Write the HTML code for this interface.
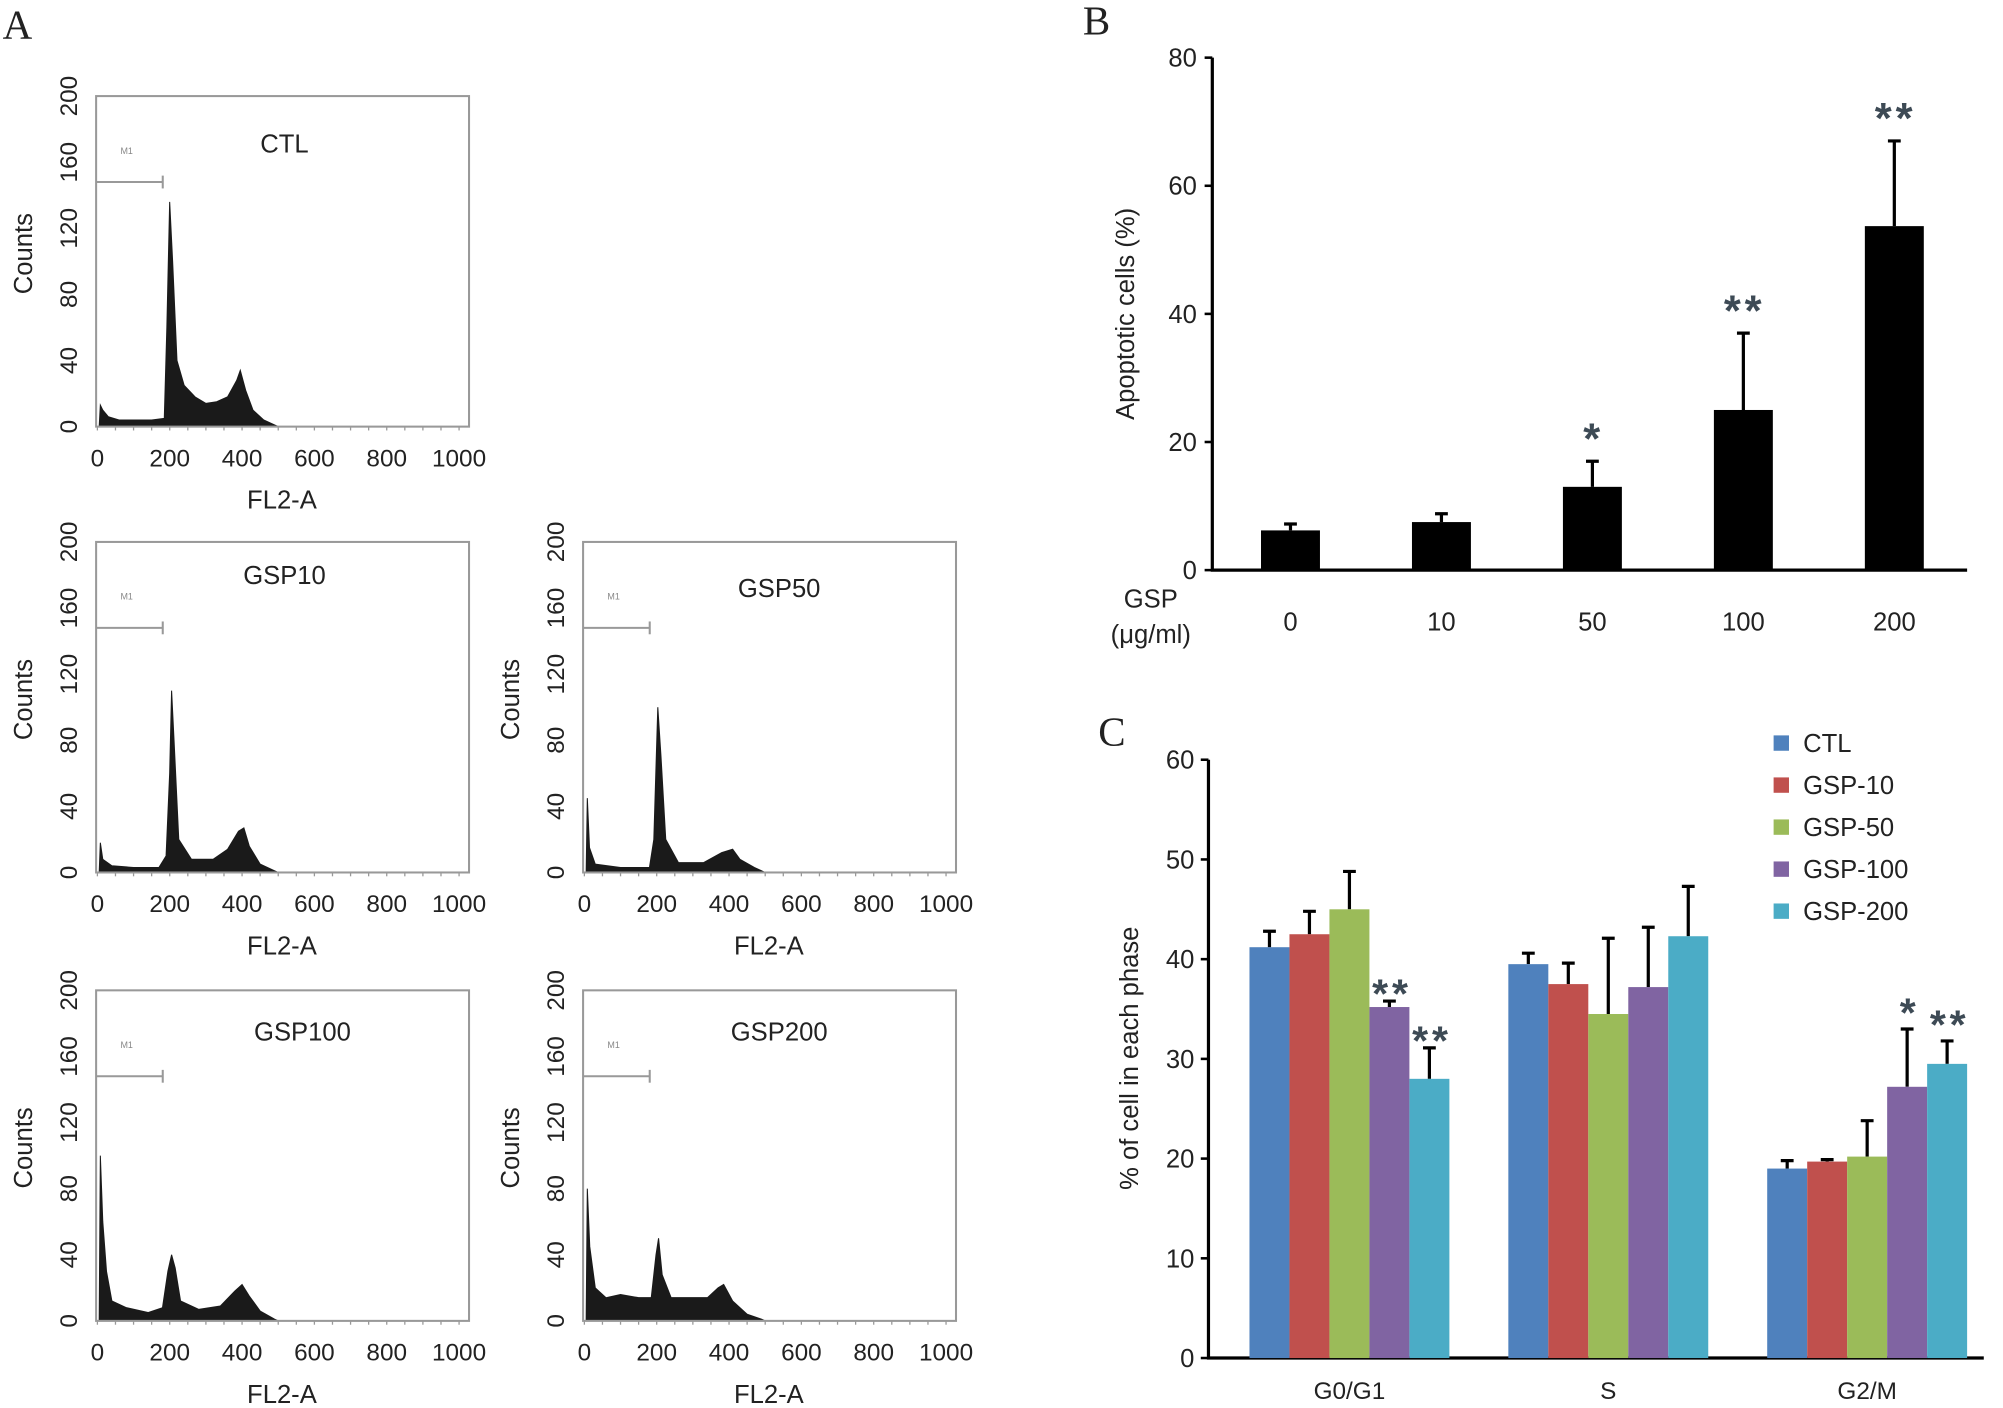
<!DOCTYPE html>
<html><head><meta charset="utf-8">
<style>
html,body{margin:0;padding:0;background:#fff;}
svg{display:block;}
text{font-family:"Liberation Sans",sans-serif;fill:#222;}
</style></head>
<body>
<svg id="fig" width="2003" height="1408" viewBox="0 0 1563 1099" preserveAspectRatio="none" xmlns="http://www.w3.org/2000/svg">
<rect width="1563" height="1099" fill="#fff"/>
<text x="2" y="30" style="font-family:'Liberation Serif',serif;font-size:32px">A</text>
<text x="845" y="27" style="font-family:'Liberation Serif',serif;font-size:32px">B</text>
<text x="857" y="582" style="font-family:'Liberation Serif',serif;font-size:32px">C</text>
<g id="panelA"></g><g id="panelB"></g><g id="panelC"></g>
</svg>
<script>
// ---------- Panel A data (histograms: channel, counts) ----------
const histTitles = ["CTL","GSP10","GSP50","GSP100","GSP200"];
const histCTL = [[5,0],[8,13],[15,10],[30,6],[60,4],[100,4],[150,4],[185,5],[192,60],[200,136],[208,100],[220,40],[240,25],[270,18],[300,14],[330,15],[360,18],[385,28],[395,34],[410,22],[430,10],[460,4],[490,1],[500,0]];
const histGSP10 = [[5,0],[8,18],[15,8],[40,4],[100,3],[170,3],[190,10],[200,60],[205,110],[212,80],[225,20],[260,8],[320,8],[360,14],[390,25],[405,27],[420,16],[450,5],[490,1],[500,0]];
const histGSP50 = [[5,0],[8,45],[14,15],[30,5],[100,3],[180,3],[192,20],[203,100],[212,70],[225,20],[260,6],[330,6],[380,12],[410,14],[430,8],[470,3],[500,0]];
const histGSP100 = [[5,0],[8,100],[15,60],[25,30],[40,12],[80,8],[140,5],[180,8],[195,30],[205,40],[215,32],[230,12],[280,7],[340,9],[380,18],[400,22],[420,15],[450,6],[490,1],[500,0]];
const histGSP200 = [[5,0],[8,80],[15,45],[30,20],[60,14],[100,16],[150,14],[185,14],[198,40],[205,50],[215,28],[240,14],[300,14],[340,14],[370,20],[385,22],[410,12],[450,4],[490,1],[500,0]];
const histSeries = [histCTL,histGSP10,histGSP50,histGSP100,histGSP200];
const histYTicks = [0,40,80,120,160,200];
const histXTicks = [0,200,400,600,800,1000];

// ---------- Panel B data ----------
const bCategories = ["0","10","50","100","200"];
const bValues = [6.2,7.5,13,25,53.7];
const bErrors = [1.0,1.3,4,12,13.3];
const bStars = ["","","*","**","**"];
const bYTicks = [0,20,40,60,80];

// ---------- Panel C data ----------
const cCategories = ["G0/G1","S","G2/M"];
const cSeriesNames = ["CTL","GSP-10","GSP-50","GSP-100","GSP-200"];
const cCTL = [41.2,39.5,19.0];
const cGSP10 = [42.5,37.5,19.7];
const cGSP50 = [45.0,34.5,20.2];
const cGSP100 = [35.2,37.2,27.2];
const cGSP200 = [28.0,42.3,29.5];
const cErrCTL = [1.6,1.1,0.8];
const cErrGSP10 = [2.3,2.1,0.2];
const cErrGSP50 = [3.8,7.6,3.6];
const cErrGSP100 = [0.6,6.0,5.8];
const cErrGSP200 = [3.1,5.0,2.3];
const cStarsGSP100 = ["**","","*"];
const cStarsGSP200 = ["**","","**"];
const cYTicks = [0,10,20,30,40,50,60];
const cColors = ["#4F81BD","#C0504D","#9BBB59","#8064A2","#4BACC6"];

const NS="http://www.w3.org/2000/svg";
function mk(parent,tag,attrs,txt){const e=document.createElementNS(NS,tag);for(const k in attrs)e.setAttribute(k,attrs[k]);if(txt!==undefined)e.textContent=txt;parent.appendChild(e);return e;}

// ---------- Panel A ----------
const gA=document.getElementById('panelA');
const frames=[{x:75,y:75},{x:75,y:423},{x:455,y:423},{x:75,y:773},{x:455,y:773}];
const titlePos=[[222,112],[222,449],[608,459],[236,805],[608,805]];
const FW=291, FH=258;
histSeries.forEach((data,i)=>{
  const f=frames[i];
  const g=mk(gA,'g',{});
  
  
  const sx=v=>f.x+1+v/1024*(FW-2);
  const sy=v=>f.y+FH-v/200*FH;
  let d='M'+sx(data[0][0])+','+sy(0);
  data.forEach(p=>{d+=' L'+sx(p[0]).toFixed(1)+','+sy(p[1]).toFixed(1);});
  d+=' L'+sx(data[data.length-1][0])+','+sy(0)+' Z';
  const area=mk(g,'path',{d:d,fill:'#1a1a1a',stroke:'#1a1a1a','stroke-width':0.8});
  
  
  const fr=mk(g,'rect',{x:f.x,y:f.y,width:FW,height:FH,fill:'none',stroke:'#999','stroke-width':1.6});
  
  
  for(let v=0;v<=1000;v+=50){mk(g,'line',{x1:sx(v),x2:sx(v),y1:sy(0),y2:sy(0)+3,stroke:'#999','stroke-width':1});}
  histYTicks.forEach(t=>{
    const lx=f.x-22, ly=sy(t);
    const tx=mk(g,'text',{x:lx,y:ly,'font-size':19,'text-anchor':'middle',transform:`rotate(-90 ${lx} ${ly})`,dy:7},String(t));
    
    
  });
  histXTicks.forEach(t=>{
    const tx=mk(g,'text',{x:sx(t),y:f.y+FH+31,'font-size':19,'text-anchor':'middle'},String(t));
    
    
  });
  const yt=mk(g,'text',{x:f.x-57,y:f.y+123,'font-size':20,'text-anchor':'middle',transform:`rotate(-90 ${f.x-57} ${f.y+123})`,dy:7},'Counts');
  
  
  const xt=mk(g,'text',{x:f.x+145,y:f.y+FH+64,'font-size':20,'text-anchor':'middle'},'FL2-A');
  
  
  const tt=mk(g,'text',{x:titlePos[i][0],y:titlePos[i][1]+7,'font-size':20,'text-anchor':'middle'},histTitles[i]);
  
  
  const gy=sy(148);
  const gate=mk(g,'g',{});
  
  
  mk(gate,'line',{x1:f.x,x2:f.x+52,y1:gy,y2:gy,stroke:'#999','stroke-width':1.6});
  mk(gate,'line',{x1:f.x+52,x2:f.x+52,y1:gy-5,y2:gy+5,stroke:'#999','stroke-width':1.6});
  mk(gate,'text',{x:f.x+19,y:gy-22,'font-size':7,style:'fill:#888'},'M1');
});

function starText(parent,x,y,s,size){
  const t=mk(parent,'text',{x:x,y:y,'font-size':size,'text-anchor':'middle',style:'fill:#3d4a55;font-weight:bold;letter-spacing:3px'},s);
  return t;
}

// ---------- Panel B ----------
const gB=document.getElementById('panelB');
const bx0=946,bx1=1535,by0=445,by1=45;
const byS=v=>by0-(v/80)*(by0-by1);
const bxS=i=>1007+i*117.8;
const axB=mk(gB,'path',{d:`M${bx0},${by1} L${bx0},${by0} L${bx1},${by0}`,fill:'none',stroke:'#000','stroke-width':2.5});


bYTicks.forEach(t=>{
  mk(gB,'line',{x1:bx0-6,x2:bx0,y1:byS(t),y2:byS(t),stroke:'#000','stroke-width':2});
  const tx=mk(gB,'text',{x:bx0-12,y:byS(t)+7,'font-size':20,'text-anchor':'end'},String(t));
  
  
});
bValues.forEach((v,i)=>{
  const cx=bxS(i);
  const top=byS(v+bErrors[i]);
  const eb=mk(gB,'path',{d:`M${cx},${byS(v)} L${cx},${top} M${cx-5},${top} L${cx+5},${top}`,stroke:'#000','stroke-width':2.5,fill:'none'});
  
  
  const r=mk(gB,'rect',{x:cx-23,y:byS(v),width:46,height:by0-byS(v),fill:'#000'});
  
  
  const lb=mk(gB,'text',{x:cx,y:492,'font-size':20,'text-anchor':'middle'},bCategories[i]);
  
  
  if(bStars[i]){
    const st=starText(gB,cx+1,top-6,bStars[i],34);
    
    
  }
});
const bt=mk(gB,'text',{x:885,y:245,'font-size':20,'text-anchor':'middle',transform:'rotate(-90 885 245)'},'Apoptotic cells (%)');


const g1=mk(gB,'text',{x:898,y:474,'font-size':20,'text-anchor':'middle'},'GSP');


const g2=mk(gB,'text',{x:898,y:502,'font-size':20,'text-anchor':'middle'},'(\u03bcg/ml)');



// ---------- Panel C ----------
const gC=document.getElementById('panelC');
const cx0=943,cx1=1548,cy0=1060,cy1=593;
const cyS=v=>cy0-(v/60)*(cy0-cy1);
const groupStart=[975,1177,1379];
const BW=31.2;
const cVals=[cCTL,cGSP10,cGSP50,cGSP100,cGSP200];
const cErrs=[cErrCTL,cErrGSP10,cErrGSP50,cErrGSP100,cErrGSP200];
const cStars=[null,null,null,cStarsGSP100,cStarsGSP200];
const axC=mk(gC,'path',{d:`M${cx0},${cy1} L${cx0},${cy0} L${cx1},${cy0}`,fill:'none',stroke:'#000','stroke-width':2.5});


cYTicks.forEach(t=>{
  mk(gC,'line',{x1:cx0-6,x2:cx0,y1:cyS(t),y2:cyS(t),stroke:'#000','stroke-width':2});
  const tx=mk(gC,'text',{x:cx0-11,y:cyS(t)+7,'font-size':20,'text-anchor':'end'},String(t));
  
  
});
cCategories.forEach((c,gi)=>{
  cVals.forEach((arr,si)=>{
    const v=arr[gi];
    const x=groupStart[gi]+si*BW;
    const mid=x+BW/2;
    const top=cyS(v+cErrs[si][gi]);
    const eb=mk(gC,'path',{d:`M${mid},${cyS(v)} L${mid},${top} M${mid-5},${top} L${mid+5},${top}`,stroke:'#000','stroke-width':2.5,fill:'none'});
    
    
    const r=mk(gC,'rect',{x:x,y:cyS(v),width:BW,height:cy0-cyS(v),fill:cColors[si]});
    
    
    if(cStars[si] && cStars[si][gi]){
      const st=starText(gC,mid+2,top-(gi===0?-5:2),cStars[si][gi],32);
      
      
    }
  });
  const lb=mk(gC,'text',{x:groupStart[gi]+BW*2.5,y:1092,'font-size':19,'text-anchor':'middle'},c);
  
  
});
cSeriesNames.forEach((n,i)=>{
  const y=580+i*32.8;
  const it=mk(gC,'g',{});
  
  
  mk(it,'rect',{x:1384,y:y-6,width:12,height:12,fill:cColors[i]});
  mk(it,'text',{x:1407,y:y+7,'font-size':20},n);
});
const ct=mk(gC,'text',{x:888,y:826,'font-size':20,'text-anchor':'middle',transform:'rotate(-90 888 826)'},'% of cell in each phase');


</script>
</body></html>
